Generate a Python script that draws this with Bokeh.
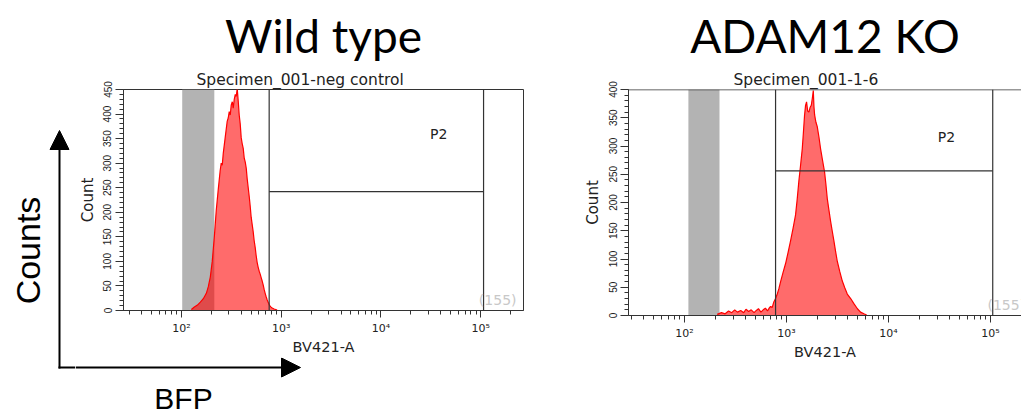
from bokeh.plotting import figure
from bokeh.layouts import row, column
from bokeh.models import (Range1d, FixedTicker, SingleIntervalTicker, Span, BoxAnnotation,
                          Label, Title, Arrow, NormalHead, ColumnDataSource)
from bokeh.embed import file_html
from bokeh.resources import INLINE

# ---------------- data ----------------
panel_titles = ["Wild type", "ADAM12 KO"]
specimen_names = ["Specimen_001-neg control", "Specimen_001-1-6"]
x_axis_label = "BV421-A"
y_axis_label = "Count"
gate_name = "P2"
event_labels = ["(155)", "(155)"]
outer_y_label = "Counts"
outer_x_label = "BFP"

x_tick_values = [100, 1000, 10000, 100000]
x_tick_labels = ["10²", "10³", "10⁴", "10⁵"]
x_minor_values = [30, 40, 50, 60, 70, 80, 90,
                  200, 300, 400, 500, 600, 700, 800, 900,
                  2000, 3000, 4000, 5000, 6000, 7000, 8000, 9000,
                  20000, 30000, 40000, 50000, 60000, 70000, 80000, 90000,
                  200000]

wt_bv421 = [126, 135, 145, 155, 166, 178, 186, 195, 204, 214, 224, 234, 245, 251, 257,
            263, 275, 288, 295, 302, 309, 316, 324, 331, 339, 347, 355, 363, 372, 380,
            389, 398, 407, 417, 427, 437, 447, 457, 468, 479, 490, 501, 513, 525, 537,
            550, 562, 575, 589, 603, 617, 631, 646, 661, 676, 692, 708, 724, 741, 759,
            776, 794, 813, 851, 912]
wt_count = [2, 7, 11, 17, 24, 35, 48, 68, 100, 150, 205, 245, 285, 300, 296,
            320, 352, 385, 392, 405, 398, 418, 425, 412, 430, 440, 436, 452, 425, 398,
            380, 352, 340, 330, 310, 302, 290, 268, 250, 232, 212, 190, 175, 160, 142,
            128, 112, 98, 88, 80, 74, 67, 60, 52, 43, 35, 28, 22, 17, 12,
            9, 7, 5, 3, 1]

ko_bv421 = [209, 230, 250, 270, 290, 310, 330, 355, 380, 400, 425, 450, 480, 505, 530,
            560, 590, 620, 650, 680, 697, 722, 750, 780, 811, 842, 874, 920, 978, 1030,
            1094, 1160, 1225, 1270, 1320, 1370, 1425, 1460, 1500, 1535, 1570, 1610, 1655,
            1700, 1747, 1790, 1828, 1855, 1883, 1940, 2000, 2080, 2155, 2250, 2358, 2430,
            2506, 2600, 2700, 2800, 2911, 3020, 3141, 3320, 3518, 3720, 3938, 4250, 4571,
            4950, 5309, 5730, 6100]
ko_count = [2, 5, 3, 8, 5, 10, 6, 9, 5, 11, 7, 10, 5, 9, 12,
            6, 10, 13, 8, 14, 16, 14, 24, 30, 38, 48, 60, 75, 92, 110,
            132, 155, 178, 205, 238, 265, 295, 322, 354, 372, 378, 362, 360,
            368, 372, 385, 398, 370, 355, 342, 334, 315, 295, 275, 254, 232,
            207, 187, 167, 150, 132, 114, 96, 78, 61, 49, 38, 30, 21,
            12, 6, 3, 1]

wt_count_max = 450
ko_count_max = 400
wt_band = [102, 214]
ko_band = [109, 220]
wt_gate = [759, 107000, 242]   # left, right, level
ko_gate = [780, 105000, 256]
wt_p2 = [38000, 359]
ko_p2 = [37000, 316]

# ---------------- style / layout constants ----------------
SMALL = "DejaVu Sans"
ARIAL = "Liberation Sans"
BIG = "Lato"
AX = "#333333"
PAGE_H = 416
STRIP_W = 75          # left strip holding the "Counts" arrow
SPLIT_Y = 357         # where the left panel ends and the "BFP" strip starts
ARROW_X, ARROW_Y, ARROW_TOP, ARROW_RIGHT = 59, 367, 130, 300


def panel(width, height, mb_left, mb_right, mb_bottom, x_lo, x_hi, y_max, xs, ys,
          band, gate, p2, specimen, spec_offset, heading, head_offset, outline=True):
    p = figure(width=width, height=height, x_axis_type="log",
               x_range=Range1d(x_lo, x_hi), y_range=Range1d(0, y_max),
               min_border_left=mb_left, min_border_right=mb_right,
               min_border_top=87, min_border_bottom=mb_bottom,
               toolbar_location=None, output_backend="svg", title=heading)
    p.frame_align = False
    p.title.text_font = BIG
    p.title.text_font_size = "46px"
    p.title.text_font_style = "normal"
    p.title.text_color = "black"
    p.title.align = "center"
    p.title.offset = head_offset
    p.title.standoff = 11
    p.add_layout(Title(text=specimen, align="left", offset=spec_offset, text_font=SMALL,
                       text_font_size="15.5px", text_font_style="normal",
                       text_color="#222222", standoff=1), "above")
    p.grid.visible = False
    p.background_fill_color = "white"
    p.border_fill_color = "white"
    p.outline_line_color = AX if outline else None

    xa = p.xaxis[0]
    xa.ticker = FixedTicker(ticks=x_tick_values, minor_ticks=x_minor_values)
    xa.major_label_overrides = dict(zip(x_tick_values, x_tick_labels))
    xa.axis_label = x_axis_label
    xa.axis_label_text_font = SMALL
    xa.axis_label_text_font_size = "14.5px"
    xa.axis_label_text_font_style = "normal"
    xa.axis_label_text_color = "#222222"
    xa.axis_label_standoff = 1
    xa.major_label_text_font = SMALL
    xa.major_label_text_font_size = "11px"
    xa.major_label_text_color = "#222222"
    xa.major_label_standoff = 4
    xa.major_tick_out = 7
    xa.major_tick_in = 0
    xa.minor_tick_out = 4
    xa.minor_tick_in = 0
    xa.axis_line_color = AX
    xa.major_tick_line_color = AX
    xa.minor_tick_line_color = AX

    ya = p.yaxis[0]
    ya.ticker = SingleIntervalTicker(interval=50, num_minor_ticks=5)
    ya.major_label_orientation = "parallel"
    ya.axis_label = y_axis_label
    ya.axis_label_text_font = SMALL
    ya.axis_label_text_font_size = "15px"
    ya.axis_label_text_font_style = "normal"
    ya.axis_label_text_color = "#222222"
    ya.axis_label_standoff = 4
    ya.major_label_text_font = ARIAL
    ya.major_label_text_font_size = "10px"
    ya.major_label_text_color = "#222222"
    ya.major_label_standoff = 4
    ya.major_tick_out = 8
    ya.major_tick_in = 0
    ya.minor_tick_out = 4
    ya.minor_tick_in = 0
    ya.axis_line_color = AX
    ya.major_tick_line_color = AX
    ya.minor_tick_line_color = AX

    p.add_layout(BoxAnnotation(left=band[0], right=band[1], fill_color="#b3b3b3",
                               fill_alpha=1.0, line_alpha=0, level="underlay"))
    src = ColumnDataSource(dict(x=xs, y=ys))
    p.varea(x="x", y1=0, y2="y", source=src, fill_color="#ff0000", fill_alpha=0.58)
    p.line(x="x", y="y", source=src, line_color="#ff0000", line_width=1.2)

    p.add_layout(Span(location=gate[0], dimension="height", line_color=AX, line_width=1.2))
    p.add_layout(Span(location=gate[1], dimension="height", line_color=AX, line_width=1.2))
    p.segment(x0=[gate[0]], y0=[gate[2]], x1=[gate[1]], y1=[gate[2]],
              line_color=AX, line_width=1.2)
    p.add_layout(Label(x=p2[0], y=p2[1], text=gate_name, text_align="center",
                       text_baseline="middle", text_font=SMALL, text_font_size="14px",
                       text_color="#222222"))
    return p


def canvas_fig(w, h, x0, x1, y0, y1):
    f = figure(width=w, height=h, x_range=Range1d(x0, x1), y_range=Range1d(y0, y1),
               x_axis_location=None, y_axis_location=None, toolbar_location=None,
               output_backend="svg", min_border=0)
    f.frame_align = False
    f.outline_line_color = None
    f.grid.visible = False
    f.background_fill_color = "white"
    f.border_fill_color = "white"
    return f


left = panel(560 - STRIP_W, SPLIT_Y, 122 - STRIP_W, 37, SPLIT_Y - 314, 26.3, 269000,
             wt_count_max, wt_bv421, wt_count, wt_band, wt_gate, wt_p2,
             specimen_names[0], 73, panel_titles[0], -7)
right = panel(461, PAGE_H, 68, 0, PAGE_H - 315, 28.2, 201000,
              ko_count_max, ko_bv421, ko_count, ko_band, ko_gate, ko_p2,
              specimen_names[1], 105, panel_titles[1], 4, outline=False)
right.add_layout(Span(location=ko_count_max, dimension="width", line_color=AX, line_width=1.5))

# event counts, bottom right of each frame
left.add_layout(Label(x=393, y=3, x_units="screen", y_units="screen", text=event_labels[0],
                      text_align="right", text_font=SMALL, text_font_size="14px",
                      text_color="#c8c8c8"))
right.add_layout(Label(x=359, y=3, x_units="screen", y_units="screen", text=event_labels[1],
                       text_align="left", text_font=SMALL, text_font_size="14px",
                       text_color="#c8c8c8"))

# outer "Counts" / "BFP" arrows (page-pixel canvases)
strip = canvas_fig(STRIP_W, PAGE_H, 0, STRIP_W, PAGE_H, 0)
strip.add_layout(Arrow(end=NormalHead(size=19, fill_color="black", line_color="black"),
                       x_start=ARROW_X, y_start=ARROW_Y + 1, x_end=ARROW_X, y_end=ARROW_TOP,
                       line_color="black", line_width=2))
strip.segment(x0=[ARROW_X - 1], y0=[ARROW_Y], x1=[STRIP_W], y1=[ARROW_Y],
              line_color="black", line_width=2)
strip.add_layout(Label(x=27.5, y=250, text=outer_y_label, angle=1.5708,
                       text_align="center", text_baseline="middle",
                       text_font=ARIAL, text_font_size="34px", text_color="black"))

bottom = canvas_fig(560 - STRIP_W, PAGE_H - SPLIT_Y, STRIP_W, 560, PAGE_H, SPLIT_Y)
bottom.add_layout(Arrow(end=NormalHead(size=19, fill_color="black", line_color="black"),
                        x_start=STRIP_W, y_start=ARROW_Y, x_end=ARROW_RIGHT, y_end=ARROW_Y,
                        line_color="black", line_width=2))
bottom.add_layout(Label(x=183, y=398, text=outer_x_label, text_align="center",
                        text_baseline="middle", text_font=ARIAL, text_font_size="30px",
                        text_color="black"))

layout = row(strip, column(left, bottom), right)
open("out.html", "w").write(file_html(layout, INLINE))
